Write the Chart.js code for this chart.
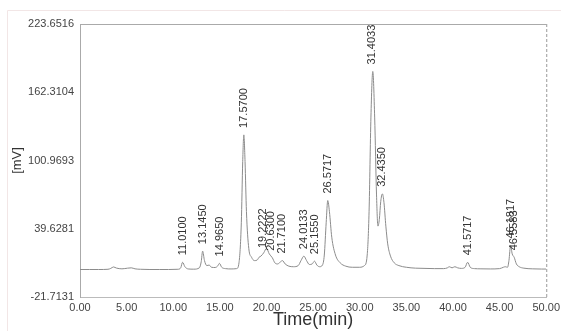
<!DOCTYPE html>
<html>
<head>
<meta charset="utf-8">
<script src="https://cdn.jsdelivr.net/npm/chart.js@4/dist/chart.umd.min.js"></script>
<style>
  html, body { margin: 0; padding: 0; background: #fff; }
  #wrap { position: relative; width: 561px; height: 331px; }
</style>
</head>
<body>
<div id="wrap"><canvas id="chrom" width="561" height="331"></canvas></div>
<script>
// retention time (min) and detector signal (mV)
const times = [0, 1, 2, 3, 3.3, 3.6, 3.9, 4.5, 5.1, 5.5, 5.9, 6.5, 7.5, 8.5, 9.5, 10.5, 10.8, 11.0, 11.25, 11.6,
  12.2, 12.8, 13.0, 13.15, 13.35, 13.6, 13.85, 14.1, 14.5, 14.75, 14.95, 15.2, 15.6, 16.2, 16.8, 17.05, 17.3, 17.45,
  17.57, 17.7, 17.85, 18.1, 18.4, 18.7, 19.0, 19.2, 19.4, 19.7, 20.0, 20.3, 20.63, 20.9, 21.2, 21.45, 21.71, 22.0,
  22.4, 22.9, 23.4, 23.7, 24.01, 24.3, 24.6, 24.9, 25.15, 25.4, 25.7, 26.0, 26.2, 26.4, 26.57, 26.75, 27.0, 27.4,
  27.9, 28.5, 29.2, 30.0, 30.5, 30.8, 31.0, 31.2, 31.4, 31.6, 31.8, 31.95, 32.1, 32.25, 32.43, 32.6, 32.8, 33.0,
  33.3, 33.7, 34.2, 35.0, 36.0, 37.0, 38.0, 39.0, 39.4, 39.6, 39.9, 40.2, 40.5, 40.9, 41.3, 41.57, 41.85, 42.3,
  43.0, 44.0, 45.0, 45.4, 45.6, 45.85, 46.0, 46.18, 46.35, 46.56, 46.8, 47.1, 47.6, 48.5, 49.5, 50.0];
const signal = [3, 3, 3, 3.2, 4, 5.3, 4.3, 3.6, 4.2, 4.5, 3.6, 3.2, 3, 3, 3, 3.2, 4.5, 9.5, 5.5, 3.5,
  3.3, 4.5, 10, 19.5, 11, 6.5, 7, 5, 4.8, 6, 8.5, 5, 3.8, 3.5, 3.8, 9, 45, 100,
  124, 100, 55, 22, 14, 11, 11.5, 14, 15, 18, 22, 17, 13.5, 9, 8, 9.5, 11, 8,
  6, 5.5, 6.5, 11, 15, 11, 7.5, 8, 10.5, 7, 5.5, 7, 16, 45, 65, 55, 32, 16,
  9, 6, 5, 5, 6.5, 16, 55, 140, 181, 140, 70, 42, 48, 64, 71, 63, 42, 26,
  15, 9, 6.5, 5, 4.2, 4, 3.8, 3.8, 4.5, 5.5, 4.5, 5.5, 4.5, 4, 5, 9.5, 5, 3.8,
  3.6, 3.5, 3.8, 5, 5.5, 5, 11, 24.5, 17, 14, 8, 5.5, 4.2, 3.6, 3.4, 3.4];

// integrated peaks: label text, retention time, apex height (mV)
const peakLabels = ['11.0100', '13.1450', '14.9650', '17.5700', '19.2222', '20.6300', '21.7100', '24.0133',
  '25.1550', '26.5717', '31.4033', '32.4350', '41.5717', '46.1817', '46.5583'];
const peakTimes = [11.01, 13.145, 14.965, 17.57, 19.6, 20.5, 21.71, 24.0133, 25.155, 26.5717, 31.3, 32.435,
  41.5717, 46.18, 46.5];
const peakHeights = [9.5, 19.5, 8.5, 124, 16, 13.5, 11, 15, 10.5, 65, 181, 71, 9.5, 24.5, 14];

const yTicks = [-21.7131, 39.6281, 100.9693, 162.3104, 223.6516];
const xTicks = [0, 5, 10, 15, 20, 25, 30, 35, 40, 45, 50];

const FONT = '"Liberation Sans", Arial, sans-serif';

const peakLabelPlugin = {
  id: 'peakLabels',
  afterDatasetsDraw(chart) {
    const { ctx, scales: { x, y } } = chart;
    ctx.save();
    ctx.font = '11px ' + FONT;
    ctx.fillStyle = '#333';
    ctx.textAlign = 'left';
    ctx.textBaseline = 'middle';
    peakLabels.forEach((txt, i) => {
      const px = x.getPixelForValue(peakTimes[i]);
      const py = y.getPixelForValue(peakHeights[i]) - 7;
      ctx.save();
      ctx.translate(px, py);
      ctx.rotate(-Math.PI / 2);
      ctx.fillText(txt, 0, 0);
      ctx.restore();
    });
    ctx.restore();
  }
};

const framePlugin = {
  id: 'frame',
  beforeDraw(chart) {
    const { ctx } = chart;
    ctx.save();
    ctx.strokeStyle = '#f2e6e6';
    ctx.lineWidth = 1;
    ctx.beginPath();
    ctx.moveTo(7.5, 331);
    ctx.lineTo(7.5, 10.5);
    ctx.lineTo(561, 10.5);
    ctx.stroke();
    ctx.restore();
  },
  afterDraw(chart) {
    const { ctx, chartArea: a } = chart;
    ctx.save();
    ctx.strokeStyle = '#aaa';
    ctx.lineWidth = 1;
    ctx.beginPath();
    ctx.moveTo(a.left, a.top + 0.5);
    ctx.lineTo(a.right, a.top + 0.5);
    ctx.stroke();
    ctx.setLineDash([3, 2]);
    ctx.strokeStyle = '#999';
    ctx.beginPath();
    ctx.moveTo(a.right + 0.5, a.top);
    ctx.lineTo(a.right + 0.5, a.bottom);
    ctx.stroke();
    ctx.restore();
  }
};

new Chart(document.getElementById('chrom'), {
  type: 'line',
  data: {
    datasets: [{
      data: times.map((t, i) => ({ x: t, y: signal[i] })),
      borderColor: '#8c8c8c',
      borderWidth: 1,
      pointRadius: 0,
      cubicInterpolationMode: 'monotone',
      fill: false
    }]
  },
  options: {
    responsive: false,
    animation: false,
    layout: { padding: { top: 24, right: 13, left: 10, bottom: 0 } },
    plugins: { legend: { display: false }, tooltip: { enabled: false } },
    scales: {
      x: {
        type: 'linear',
        min: 0,
        max: 50,
        afterBuildTicks: s => { s.ticks = xTicks.map(v => ({ value: v })); },
        afterFit: s => { s.height = 34; },
        grid: { display: false, drawTicks: true, tickLength: 3, tickColor: '#999' },
        border: { color: '#bbb' },
        ticks: {
          color: '#444',
          font: { family: FONT, size: 11 },
          padding: 1,
          maxRotation: 0,
          callback: v => Number(v).toFixed(2)
        },
        title: {
          display: true,
          text: 'Time(min)',
          color: '#333',
          font: { family: FONT, size: 18 },
          padding: { top: 0, bottom: 0 }
        }
      },
      y: {
        min: yTicks[0],
        max: yTicks[yTicks.length - 1],
        afterBuildTicks: s => { s.ticks = yTicks.map(v => ({ value: v })); },
        afterFit: s => { s.width = 70; },
        grid: { display: false, drawTicks: true, tickLength: 3, tickColor: '#999' },
        border: { color: '#aaa', dash: [3, 2] },
        ticks: {
          color: '#444',
          font: { family: FONT, size: 11 },
          padding: 3,
          callback: v => Number(v).toFixed(4)
        },
        title: {
          display: true,
          text: '[mV]',
          color: '#333',
          font: { family: FONT, size: 13 },
          padding: { top: 0, bottom: 0 }
        }
      }
    }
  },
  plugins: [framePlugin, peakLabelPlugin]
});
</script>
</body>
</html>
